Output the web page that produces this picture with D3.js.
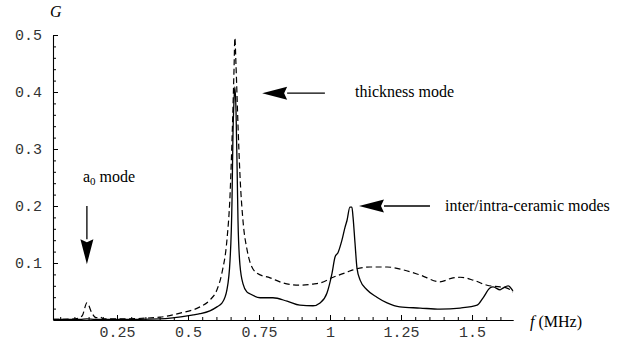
<!DOCTYPE html>
<html>
<head>
<meta charset="utf-8">
<script src="https://cdn.jsdelivr.net/npm/d3@7"></script>
<style>
  body { margin: 0; background: #fff; }
  .tick text { font-family: "Liberation Mono", monospace; font-size: 15px; fill: #333; }
  .lbl { font-family: "Times New Roman", "Liberation Serif", "DejaVu Serif", serif; fill: #000; }
</style>
</head>
<body>
<svg id="chart" width="625" height="341"></svg>
<script>
// frequency (MHz) and conductance G
var solidF = [0.025,0.120,0.144,0.173,0.261,0.401,0.518,0.542,0.577,0.602,0.620,0.637,0.648,0.655,0.658,0.662,0.665,0.669,0.673,0.676,0.683,0.694,0.708,0.718,0.754,0.799,0.849,0.894,0.940,0.965,0.989,1.007,1.018,1.028,1.042,1.053,1.060,1.070,1.077,1.081,1.088,1.095,1.106,1.130,1.165,1.201,1.246,1.317,1.387,1.458,1.518,1.539,1.563,1.574,1.599,1.609,1.627,1.644];
var solidG = [0.001,0.001,0.002,0.001,0.001,0.002,0.009,0.011,0.016,0.023,0.030,0.053,0.105,0.211,0.316,0.386,0.409,0.368,0.263,0.175,0.096,0.063,0.049,0.046,0.039,0.039,0.033,0.026,0.025,0.030,0.047,0.082,0.111,0.118,0.140,0.163,0.175,0.198,0.198,0.181,0.135,0.091,0.070,0.053,0.040,0.030,0.023,0.021,0.019,0.021,0.026,0.039,0.056,0.058,0.053,0.056,0.060,0.051];

var dashF = [0.025,0.102,0.127,0.144,0.162,0.176,0.190,0.204,0.261,0.401,0.472,0.542,0.577,0.602,0.620,0.637,0.648,0.655,0.662,0.665,0.669,0.676,0.683,0.694,0.708,0.718,0.743,0.789,0.835,0.894,0.940,0.965,1.011,1.060,1.081,1.141,1.201,1.257,1.317,1.387,1.433,1.458,1.504,1.553,1.599,1.623,1.644];
var dashG = [0.001,0.002,0.007,0.030,0.012,0.004,0.005,0.002,0.002,0.005,0.012,0.023,0.035,0.053,0.084,0.140,0.219,0.316,0.439,0.495,0.447,0.342,0.254,0.172,0.123,0.102,0.082,0.074,0.065,0.061,0.063,0.065,0.075,0.084,0.088,0.093,0.093,0.088,0.079,0.067,0.074,0.075,0.070,0.061,0.058,0.056,0.049];

var xTicks = [0.25, 0.5, 0.75, 1, 1.25, 1.5];
var yTicks = [0.1, 0.2, 0.3, 0.4, 0.5];

// annotations: text at (f, G), arrows from tail to tip
var notes = [
  { text: "thickness mode", f: 1.088, g: 0.392 },
  { text: "inter/intra-ceramic modes", f: 1.405, g: 0.192 },
  { text: "a", sub: "0", rest: " mode", f: 0.130, g: 0.242 }
];
var arrows = [
  { f0: 0.144, g0: 0.200, f1: 0.144, g1: 0.098 },
  { f0: 0.982, g0: 0.398, f1: 0.761, g1: 0.398 },
  { f0: 1.352, g0: 0.200, f1: 1.102, g1: 0.200 }
];

var svg = d3.select("#chart");

var x = d3.scaleLinear().domain([0.025, 1.645]).range([53.1, 513.2]);
var y = d3.scaleLinear().domain([0, 0.5]).range([320, 35]);

// minor ticks
var xMinor = d3.range(0.05, 1.645, 0.05).filter(function(v) {
  return xTicks.every(function(t) { return Math.abs(t - v) > 1e-6; });
});
var yMinor = d3.range(0.02, 0.5, 0.02).filter(function(v) {
  return yTicks.every(function(t) { return Math.abs(t - v) > 1e-6; });
});

svg.append("g")
  .attr("transform", "translate(0,320)")
  .call(d3.axisBottom(x).tickValues(xMinor).tickSize(-3).tickFormat(""))
  .call(function(g) { g.select(".domain").remove(); });
svg.append("g")
  .attr("transform", "translate(0,320)")
  .call(d3.axisBottom(x).tickValues(xTicks).tickSize(-5).tickSizeOuter(0)
    .tickFormat(function(d) { return d === 1 ? "1" : String(d); }))
  .call(function(g) {
    g.selectAll(".tick text").attr("y", 6).attr("dy", "0.71em");
    g.select(".domain").attr("stroke-width", 1.1);
  });

svg.append("g")
  .attr("transform", "translate(53,0)")
  .call(d3.axisLeft(y).tickValues(yMinor).tickSize(-3).tickFormat(""))
  .call(function(g) { g.select(".domain").remove(); });
svg.append("g")
  .attr("transform", "translate(53,0)")
  .call(d3.axisLeft(y).tickValues(yTicks).tickSize(-5).tickSizeOuter(0)
    .tickFormat(d3.format(".1f")))
  .call(function(g) {
    g.selectAll(".tick text").attr("x", -11);
    g.select(".domain").attr("stroke-width", 1.1);
  });

svg.append("text").attr("class", "lbl")
  .attr("x", 50).attr("y", 17)
  .style("font-size", "16px").style("font-style", "italic")
  .text("G");

var fl = svg.append("text").attr("class", "lbl")
  .attr("x", 530).attr("y", 327).style("font-size", "16px");
fl.append("tspan").style("font-style", "italic").text("f");
fl.append("tspan").text(" (MHz)");

var line = d3.line()
  .x(function(d) { return x(d[0]); })
  .y(function(d) { return y(d[1]); })
  .curve(d3.curveMonotoneX);

svg.append("path")
  .datum(d3.zip(dashF, dashG))
  .attr("fill", "none").attr("stroke", "#000")
  .attr("stroke-width", 1.2).attr("stroke-dasharray", "6,3.5")
  .attr("d", line);

svg.append("path")
  .datum(d3.zip(solidF, solidG))
  .attr("fill", "none").attr("stroke", "#000")
  .attr("stroke-width", 1.3)
  .attr("d", line);

notes.forEach(function(n) {
  var t = svg.append("text").attr("class", "lbl")
    .attr("x", x(n.f)).attr("y", y(n.g)).style("font-size", "16px");
  t.append("tspan").text(n.text);
  if (n.sub) {
    t.append("tspan").attr("dy", 3).style("font-size", "11px").text(n.sub);
    t.append("tspan").attr("dy", -3).text(n.rest);
  }
});

arrows.forEach(function(a) {
  var x0 = x(a.f0), y0 = y(a.g0), x1 = x(a.f1), y1 = y(a.g1);
  var dx = x1 - x0, dy = y1 - y0, len = Math.sqrt(dx * dx + dy * dy);
  var ux = dx / len, uy = dy / len;
  var hl = 25, hw = 6.5;
  var bx = x1 - ux * hl, by = y1 - uy * hl;
  svg.append("line")
    .attr("x1", x0).attr("y1", y0).attr("x2", bx).attr("y2", by)
    .attr("stroke", "#000").attr("stroke-width", 1.3);
  svg.append("path")
    .attr("d", "M" + x1 + "," + y1 +
      "L" + (bx - uy * hw) + "," + (by + ux * hw) +
      "L" + (bx + ux * 3) + "," + (by + uy * 3) +
      "L" + (bx + uy * hw) + "," + (by - ux * hw) + "Z")
    .attr("fill", "#000");
});
</script>
</body>
</html>
